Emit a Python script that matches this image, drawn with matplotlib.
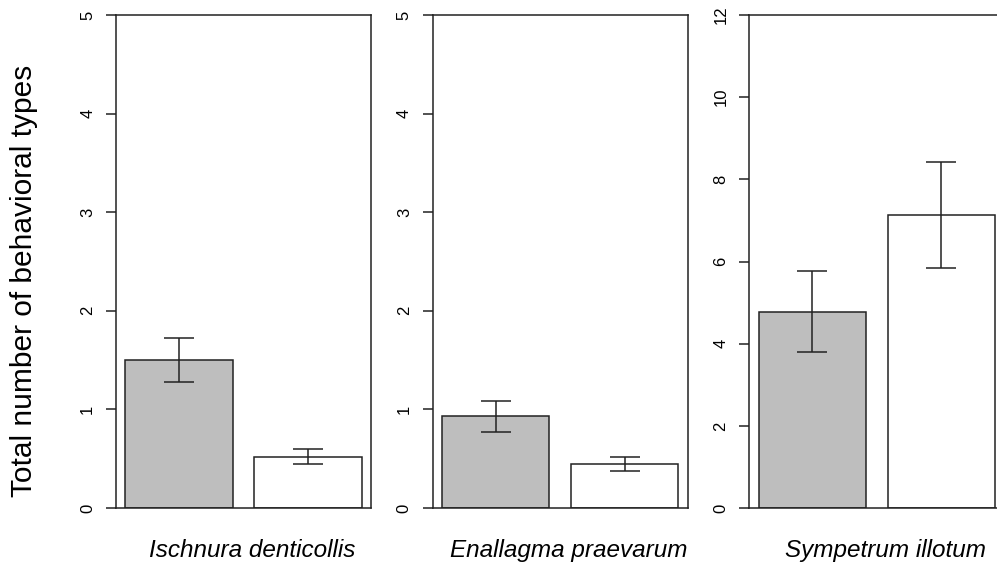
import numpy as np
import matplotlib
matplotlib.use("Agg")
import matplotlib.pyplot as plt

plt.rcParams['font.family'] = ['Liberation Sans', 'DejaVu Sans']

# data
species = ["Ischnura denticollis", "Enallagma praevarum", "Sympetrum illotum"]
means_grey = [1.50, 0.93, 4.78]
means_white = [0.52, 0.45, 7.14]
err_lo_grey = [1.28, 0.77, 3.80]
err_hi_grey = [1.72, 1.09, 5.77]
err_lo_white = [0.45, 0.375, 5.85]
err_hi_white = [0.60, 0.52, 8.43]
ymax = [5, 5, 12]
yticks = [[0, 1, 2, 3, 4, 5], [0, 1, 2, 3, 4, 5], [0, 2, 4, 6, 8, 10, 12]]

fig = plt.figure(figsize=(9.97, 5.65), dpi=100)

lefts = [116 / 997, 432.7 / 997, 749.3 / 997]
w = 255 / 997
bottom = 57 / 565
h = 493 / 565

centers = np.array([0.7, 1.9])

for i, sp in enumerate(species):
    ax = fig.add_axes([lefts[i], bottom, w, h])
    vals = [means_grey[i], means_white[i]]
    ax.bar(centers, vals, width=1.0, color=["#BEBEBE", "white"],
           edgecolor="#222222", linewidth=1.1, zorder=2)
    lo = [vals[0] - err_lo_grey[i], vals[1] - err_lo_white[i]]
    hi = [err_hi_grey[i] - vals[0], err_hi_white[i] - vals[1]]
    ax.errorbar(centers, vals, yerr=[lo, hi], fmt="none", ecolor="#222222",
                elinewidth=1.1, capsize=11, capthick=1.1, zorder=3)
    ax.set_xlim(0.112, 2.488)
    ax.set_ylim(0, ymax[i])
    ax.set_xticks([])
    ax.set_yticks(yticks[i])
    ax.set_yticklabels([str(t) for t in yticks[i]], rotation=90, va="center")
    ax.tick_params(axis="y", length=7, width=1.1, pad=8, labelsize=12,
                   color="#222222")
    for s in ax.spines.values():
        s.set_linewidth(1.1)
        s.set_color("#222222")
    ax.text(0.535, -0.099, sp, transform=ax.transAxes, ha="center", va="baseline",
            fontsize=17.5, style="italic")

fig.text(24 / 997, 0.503, "Total number of behavioral types", rotation=90,
         ha="center", va="center", fontsize=21.5)

fig.savefig("out.png", dpi=100)
